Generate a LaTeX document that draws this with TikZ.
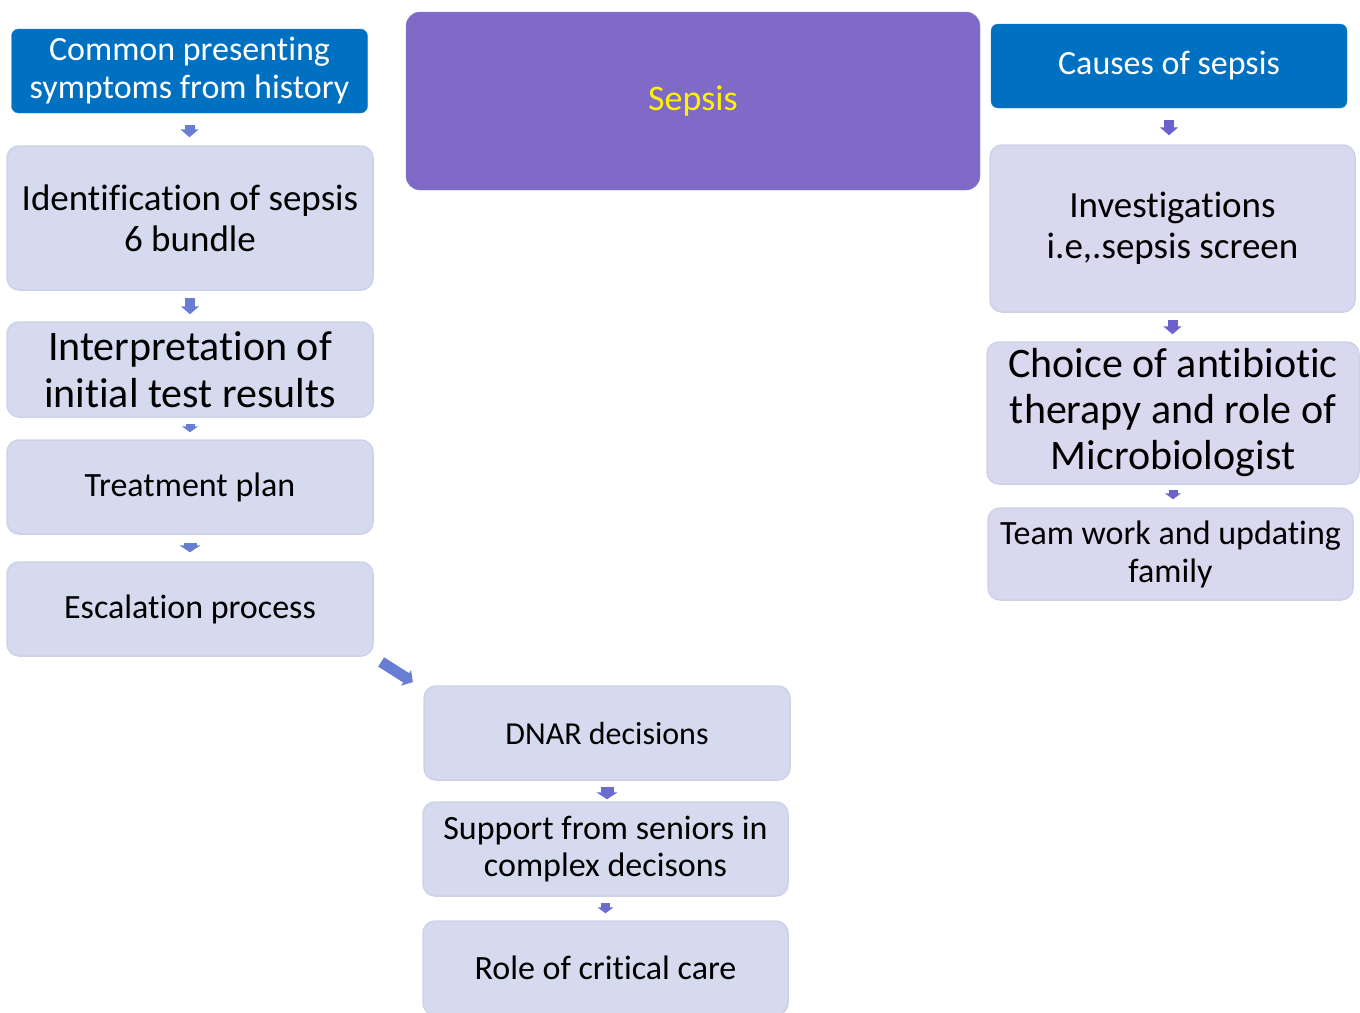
\documentclass[tikz,border=0pt]{standalone}
\usepackage{fontspec}
\setmainfont{Carlito}[Ligatures=NoCommon]
\usetikzlibrary{positioning}
\usetikzlibrary{arrows.meta}
\definecolor{headblue}{RGB}{0,112,192}
\definecolor{sepsispurple}{RGB}{127,106,200}
\definecolor{boxfill}{RGB}{214,218,238}
\definecolor{boxfillr}{RGB}{218,216,238}
\definecolor{boxline}{RGB}{205,210,233}
\definecolor{arrowblue}{RGB}{104,126,212}
\definecolor{arrowpurple}{RGB}{108,96,204}
\newcommand{\boxfont}[2]{\fontsize{#1}{#2}\selectfont}
\tikzstyle{mynode}=[align=center, rounded corners=12pt, inner sep=0pt]
\tikzstyle{header}=[mynode, rounded corners=7pt, fill=headblue, draw=headblue!85!white, text=white, minimum width=356pt, minimum height=84pt, font=\boxfont{34}{38}]
\tikzstyle{stagebox}=[mynode, fill=boxfill, draw=boxline, line width=1.5pt, minimum width=366pt, minimum height=94pt, font=\boxfont{34}{38}]
\tikzstyle{stageboxr}=[stagebox, fill=boxfillr]
\tikzstyle{flow}=[line width=10pt, arrowblue, -{Triangle[length=8pt,width=18pt]}]
\tikzstyle{small flow}=[line width=9pt, -{Triangle[length=6pt,width=16pt]}]
\tikzstyle{wide flow}=[line width=13pt, -{Triangle[length=7pt,width=21pt]}]

\begin{document}
\begin{tikzpicture}[x=1pt, y=-1pt]
\useasboundingbox (0,0) rectangle (1360,1012);

% left column
\node[header] (symptoms) at (189.5,71) {Common presenting\\symptoms from history};
\node[stagebox, minimum height=144pt, font=\boxfont{37}{41}] (ident) at (190,218) {Identification of sepsis\\6 bundle};
\node[stagebox, minimum height=95pt, font=\boxfont{42}{47}] (interp) at (190,369.5) {Interpretation of\\initial test results};
\node[stagebox] (treat) at (190,487) {Treatment plan};
\node[stagebox] (escal) at (190,609) {Escalation process};

% middle
\node[mynode, rounded corners=14pt, fill=sepsispurple, draw=sepsispurple!85!white, text=yellow, minimum width=574pt, minimum height=178pt, font=\boxfont{36}{40}] (sepsis) at (693,101) {Sepsis};
\node[stagebox, font=\boxfont{32}{36}] (dnar) at (607,733) {DNAR decisions};
\node[stagebox, minimum width=365pt, font=\boxfont{34}{37}] (support) at (605.5,849) {Support from seniors in\\complex decisons};
\node[stagebox, minimum width=365pt] (critical) at (605.5,968) {Role of critical care};

% right column
\node[header] (causes) at (1169,66) {Causes of sepsis};
\node[stageboxr, minimum width=365pt, minimum height=167pt, font=\boxfont{37}{41}] (invest) at (1172.5,228.5) {Investigations\\i.e,.sepsis screen};
\node[stageboxr, minimum width=372pt, minimum height=142pt, font=\boxfont{42}{46}] (choice) at (1173,413) {Choice of antibiotic\\therapy and role of\\Microbiologist};
\node[stageboxr, minimum width=365pt, minimum height=92pt] (team) at (1170.5,554) {Team work and updating\\family};

\begin{scope}[flow]
    \draw[shorten <=12pt, shorten >=8pt] (symptoms.south) -- (symptoms.south |- ident.north);
    \draw[shorten <=7pt, shorten >=7pt] (ident.south) -- (interp.north);
    \draw[small flow, shorten <=6pt, shorten >=7pt] (interp.south) -- (treat.north);
    \draw[wide flow, shorten <=8pt, shorten >=9pt] (treat.south) -- (escal.north);
    \draw[line width=11pt, shorten <=4pt, shorten >=4pt] ([shift={(4pt,-3pt)}]escal.south east) -- ([shift={(-7pt,1pt)}]dnar.north west);

    \draw[wide flow, arrowpurple!60!arrowblue, shorten <=6pt, shorten >=2pt] (dnar.south) -- (dnar.south |- support.north);
    \draw[small flow, arrowpurple!60!arrowblue, shorten <=6pt, shorten >=7pt] (support.south) -- (critical.north);

    \draw[arrowpurple, shorten <=12pt, shorten >=9pt] (causes.south) -- (causes.south |- invest.north);
    \draw[arrowpurple, shorten <=7pt, shorten >=7pt] (invest.south) -- (invest.south |- choice.north);
    \draw[small flow, arrowpurple, shorten <=5pt, shorten >=8pt] (choice.south) -- (choice.south |- team.north);
\end{scope}

\end{tikzpicture}
\end{document}
